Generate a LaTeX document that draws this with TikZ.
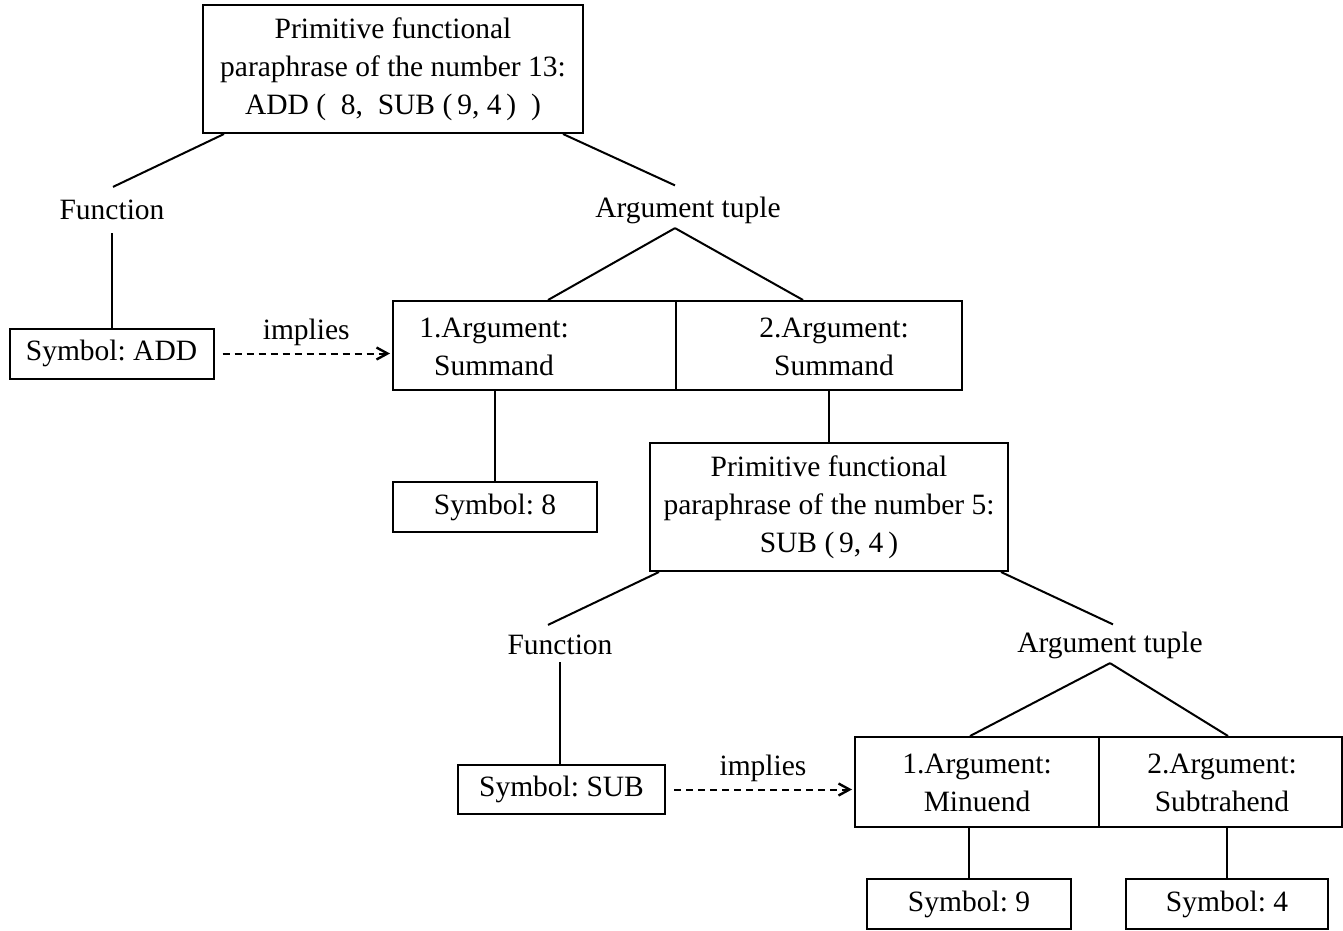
\documentclass[tikz,border=0pt]{standalone}
\usepackage{fontspec}
\setmainfont{Liberation Serif}
\usetikzlibrary{arrows.meta}
\frenchspacing

\begin{document}
\begin{tikzpicture}[x=1pt,y=-1pt,
  every node/.style={font=\fontsize{29.5}{38}\selectfont},
  box/.style={draw,line width=2pt,inner sep=0pt,align=center},
  word/.style={inner sep=0pt,align=center},
  branch/.style={line width=2pt},
  implies/.style={line width=2pt,dash pattern=on 7pt off 5pt,
    -{Straight Barb[length=11pt,width=12pt,line width=2.4pt]}}]
\useasboundingbox (0,0) rectangle (1343,930);

% upper paraphrase
\node [box,minimum width=380,minimum height=128] (num13) at (393,69)
  {Primitive functional\\paraphrase of the number 13:\\ADD (\ \ 8,\ \ SUB (\,9, 4\,)\ \ )};
\node [word] (fun1) at (112,210) {Function};
\node [word] (tup1) at (688,210) {Argument tuple};
\node [box,minimum width=204,minimum height=50] (symadd) at (111.5,353.5) {Symbol: ADD};
\node [box,minimum width=283,minimum height=89] (arg1a) at (534.5,345.5) {};
\node [box,minimum width=286,minimum height=89] (arg1b) at (819,345.5) {};
\node [word] (arg1atxt) at (494,347) {1.Argument:\\Summand};
\node [word] (arg1btxt) at (834,347) {2.Argument:\\Summand};
\node [box,minimum width=204,minimum height=50] (sym8) at (495,507) {Symbol: 8};
\coordinate (fork1) at ([xshift=-13pt,yshift=-4.5pt]tup1.south);

\draw[branch] ([xshift=22pt]num13.south west) -- ([xshift=1pt,yshift=13pt]fun1.north);
\draw[branch] ([xshift=-21pt]num13.south east) -- ([xshift=-13pt,yshift=11pt]tup1.north);
\draw[branch] ([yshift=-13pt]symadd.north |- fun1.south) -- (symadd.north);
\draw[branch] (fork1) -- ([xshift=13.5pt]arg1a.north);
\draw[branch] (fork1) -- ([xshift=-16pt]arg1b.north);
\draw[implies] ([xshift=8pt]symadd.east) -- node[word,above=7pt] (imp1) {implies} ([xshift=-2pt]arg1a.west |- symadd.east);
\draw[branch] (sym8.north |- arg1a.south) -- (sym8.north);

% lower paraphrase
\node [box,minimum width=358,minimum height=128] (num5) at (829,507)
  {Primitive functional\\paraphrase of the number 5:\\SUB (\,9, 4\,)};
\node [word] (fun2) at (560,645) {Function};
\node [word] (tup2) at (1110,645) {Argument tuple};
\node [box,minimum width=207,minimum height=49] (symsub) at (561.5,789.5) {Symbol: SUB};
\node [box,minimum width=244,minimum height=90] (arg2a) at (977,782) {};
\node [box,minimum width=243,minimum height=90] (arg2b) at (1220.5,782) {};
\node [word] (arg2atxt) at (977,783) {1.Argument:\\Minuend};
\node [word] (arg2btxt) at (1222,783) {2.Argument:\\Subtrahend};
\node [box,minimum width=204,minimum height=50] (sym9) at (969,904) {Symbol: 9};
\node [box,minimum width=202,minimum height=50] (sym4) at (1227,904) {Symbol: 4};
\coordinate (fork2) at ([yshift=-4.5pt]tup2.south);

\draw[branch] (num5.north |- arg1b.south) -- (num5.north);
\draw[branch] ([xshift=10pt]num5.south west) -- ([xshift=-12pt,yshift=10pt]fun2.north);
\draw[branch] ([xshift=-8pt]num5.south east) -- ([xshift=3pt,yshift=7pt]tup2.north);
\draw[branch] ([yshift=-7pt]fun2.south) -- (fun2.south |- symsub.north);
\draw[branch] (fork2) -- ([xshift=-7pt]arg2a.north);
\draw[branch] (fork2) -- ([xshift=7.5pt]arg2b.north);
\draw[implies] ([xshift=8pt]symsub.east) -- node[word,above=7pt] (imp2) {implies} ([xshift=-2pt]arg2a.west |- symsub.east);
\draw[branch] (sym9.north |- arg2a.south) -- (sym9.north);
\draw[branch] (sym4.north |- arg2b.south) -- (sym4.north);
\end{tikzpicture}
\end{document}
